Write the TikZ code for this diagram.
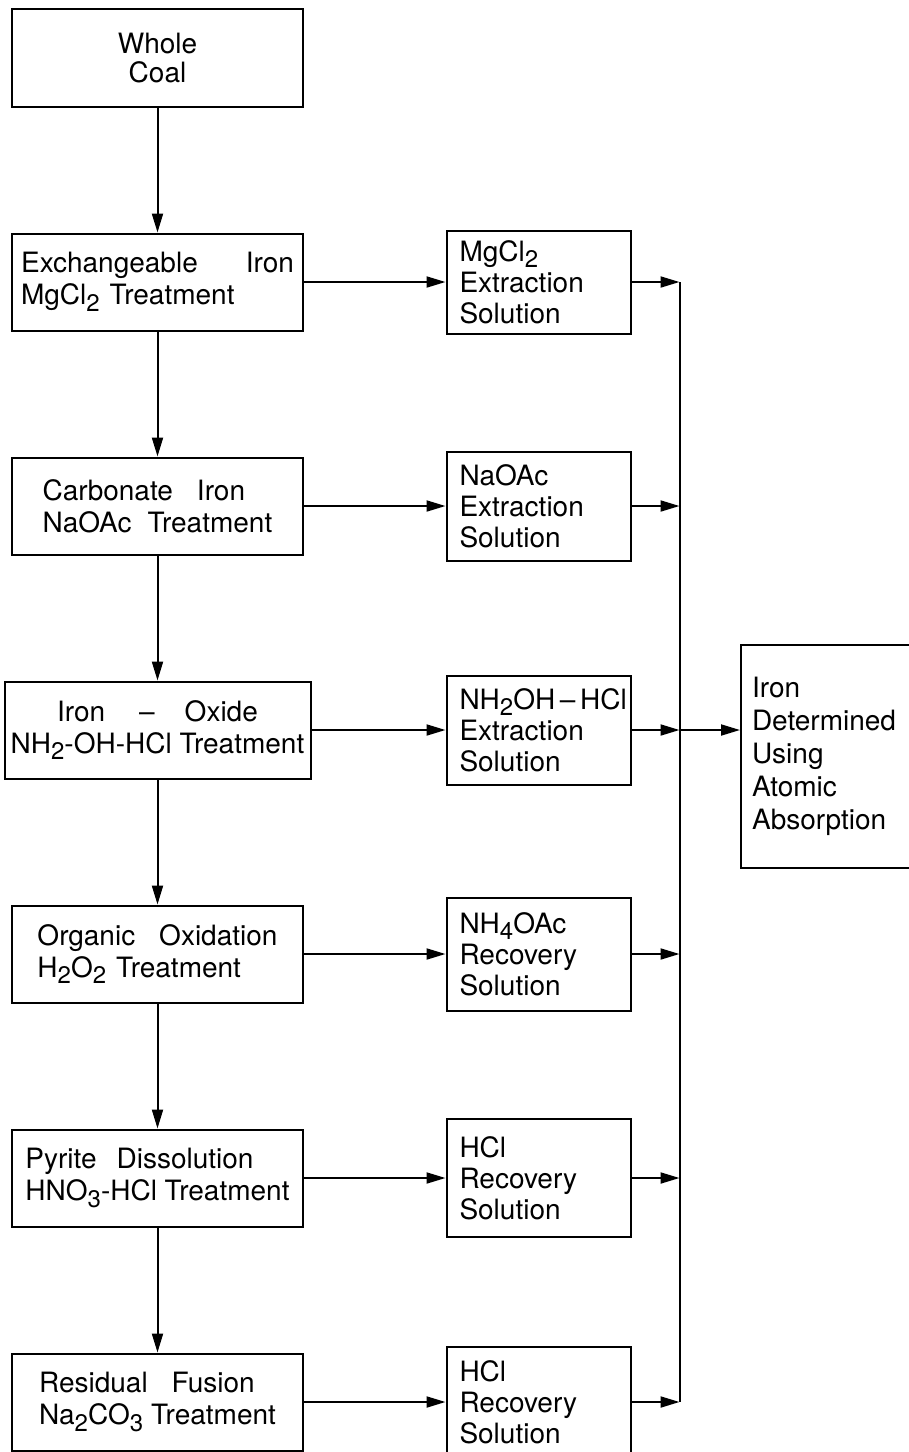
\documentclass[tikz,border=0pt]{standalone}
\usepackage{fontspec}
\setmainfont{TeX Gyre Heros}
\usetikzlibrary{arrows.meta,positioning}
\newcommand{\lowsub}[1]{\raisebox{-0.45ex}{\fontsize{12}{12}\selectfont #1}}

\begin{document}
\begin{tikzpicture}[x=0.5pt,y=-0.5pt,>={Triangle[length=9.5pt,width=5.5pt]},on grid,node distance=112pt,line width=1pt,
  stage/.style={draw,minimum width=145.5pt,minimum height=48.5pt,inner sep=2pt,align=left,font=\fontsize{14}{16}\selectfont},
  soln/.style={draw,text width=79pt,inner xsep=6.5pt,inner ysep=2pt,align=left,font=\fontsize{14}{15.5}\selectfont},
  result/.style={draw,text width=74pt,inner xsep=5.5pt,minimum height=111.5pt,align=left,font=\fontsize{14}{16.5}\selectfont},
  flow/.style={->}]
  \useasboundingbox (0,0) rectangle (909,1452);
  % treatment steps
  \node[stage,align=center,minimum height=49pt,font=\fontsize{14}{14.5}\selectfont] (wc) at (157.5,58) {Whole\\Coal};
  \node[stage] (ex) [below=of wc] {Exchangeable\hspace{24pt}Iron\\MgCl\lowsub{2}\hspace{5pt}Treatment};
  \node[stage] (ca) [below=of ex] {Carbonate\hspace{12pt}Iron\\NaOAc\hspace{8pt}Treatment};
  \node[stage,align=center,minimum width=153pt] (ox) [below=of ca] {Iron\hspace{17pt}--\hspace{15pt}Oxide\\NH\lowsub{2}-OH-HCl Treatment};
  \node[stage] (or) [below=of ox] {Organic\hspace{12pt}Oxidation\\H\lowsub{2}O\lowsub{2}\hspace{5pt}Treatment};
  \node[stage] (py) [below=of or] {Pyrite\hspace{10pt}Dissolution\\HNO\lowsub{3}-HCl Treatment};
  \node[stage] (re) [below=of py] {Residual\hspace{12pt}Fusion\\Na\lowsub{2}CO\lowsub{3}\hspace{4pt}Treatment};
  % solutions
  \node[soln,minimum height=51.5pt] (m1) [right=190.5pt of ex] {MgCl\lowsub{2}\\Extraction\\Solution};
  \node[soln,minimum height=54.5pt] (m2) [below=of m1] {NaOAc\\Extraction\\Solution};
  \node[soln,minimum height=54.5pt] (m3) [below=of m2] {\mbox{NH\lowsub{2}OH\,--\,HCl}\\Extraction\\Solution};
  \node[soln,minimum height=56.5pt] (m4) [below=of m3] {NH\lowsub{4}OAc\\Recovery\\Solution};
  \node[soln,minimum height=59pt] (m5) [below=of m4] {HCl\\Recovery\\Solution};
  \node[soln,minimum height=55pt] (m6) [below=of m5] {HCl\\Recovery\\Solution};
  % collecting line
  \coordinate[right=70.5pt of m1] (j1);
  \coordinate (j2) at (j1 |- m2);
  \coordinate (j3) at (j1 |- m3);
  \coordinate (j4) at (j1 |- m4);
  \coordinate (j5) at (j1 |- m5);
  \coordinate (j6) at (j1 |- m6);
  \node[result,anchor=west] (det) at ([xshift=30.25pt,yshift=-13pt]j3) {Iron\\Determined\\Using\\Atomic\\Absorption};
  \path (wc) edge[flow] (ex)
        (ex) edge[flow] (ca)
        (ca) edge[flow] (ox)
        (ox) edge[flow] (or)
        (or) edge[flow] (py)
        (py) edge[flow] (re);
  \path (ex) edge[flow] (m1)
        (ca) edge[flow] (m2)
        (ox) edge[flow] (m3)
        (or) edge[flow] (m4)
        (py) edge[flow] (m5)
        (re) edge[flow] (m6);
  \path (m1) edge[flow] (j1)
        (m2) edge[flow] (j2)
        (m3) edge[flow] (j3)
        (m4) edge[flow] (j4)
        (m5) edge[flow] (j5)
        (m6) edge[flow] (j6);
  \draw (j1) -- (j6);
  \draw[flow] (j3) -- (j3 -| det.west);
\end{tikzpicture}
\end{document}
